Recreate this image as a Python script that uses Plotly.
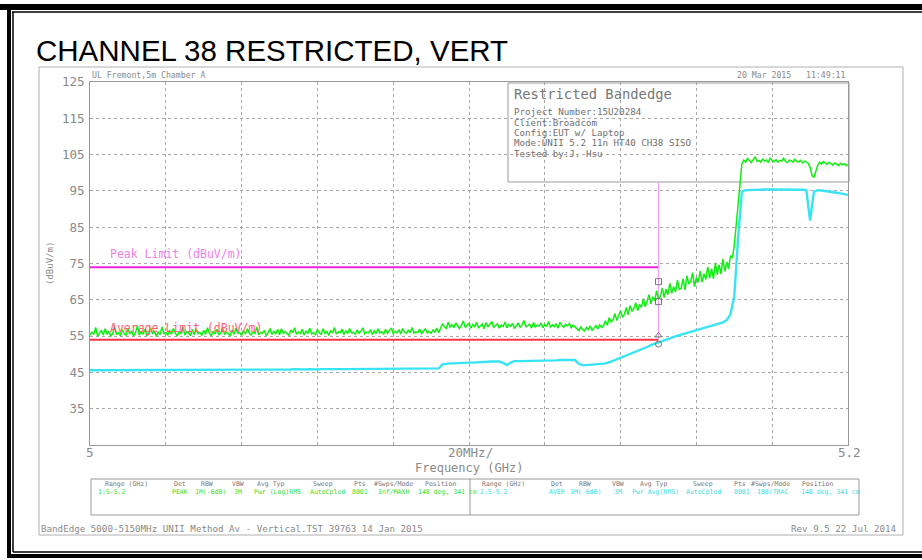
import numpy as np
import plotly.graph_objects as go

# ---------------- data ----------------
peak_start, peak_step = 5.0, 0.0005   # GHz sweep grid for the peak trace
avg_start, avg_step = 5.0, 0.001      # GHz sweep grid for the average trace

peak_trace = [
    # 5.000 - 5.092
    55.2, 56.1, 55.6, 57.4, 55.0, 55.9, 56.6, 55.3, 57.0, 55.5,
    56.3, 54.9, 55.8, 57.7, 55.4, 56.0, 55.1, 56.8, 55.7, 55.2,
    57.2, 55.6, 56.4, 55.0, 55.9, 57.9, 55.3, 56.2, 55.5, 56.9,
    55.1, 55.8, 57.3, 55.6, 56.5, 54.9, 56.1, 55.4, 57.5, 55.7,
    56.0, 55.2, 56.7, 55.5, 57.1, 55.8, 55.0, 56.3, 55.6, 57.6,
    55.3, 56.2, 55.9, 55.1, 56.8, 55.4, 57.0, 55.7, 56.0, 55.2,
    56.6, 55.5, 57.3, 55.8, 55.1, 56.4, 55.6, 56.9, 55.3, 55.9,
    57.4, 55.4, 56.1, 55.7, 55.0, 56.7, 55.5, 57.2, 55.8, 56.0,
    55.2, 56.5, 55.6, 57.0, 55.9, 55.3, 56.2, 55.7, 57.5, 55.4,
    56.0, 55.8, 56.6, 55.1, 55.9, 57.1, 55.5, 56.3, 55.7, 56.8,
    55.4, 57.0, 55.8, 56.2, 55.6, 55.2, 56.7, 55.9, 57.3, 55.5,
    56.1, 55.7, 56.9, 55.3, 56.4, 55.8, 57.2, 55.6, 56.0, 55.4,
    56.8, 55.9, 55.5, 57.0, 55.7, 56.3, 55.2, 56.6, 55.8, 57.4,
    55.6, 56.2, 55.9, 56.9, 55.4, 56.5, 55.7, 57.1, 55.9, 56.0,
    55.5, 56.7, 55.8, 56.3, 57.3, 55.6, 56.1, 55.9, 56.8, 55.4,
    56.4, 55.7, 57.0, 55.9, 56.2, 55.6, 56.9, 55.8, 56.5, 57.2,
    55.7, 56.3, 55.9, 56.8, 55.6, 57.1, 56.0, 55.8, 56.6, 55.9,
    57.4, 55.8, 56.2, 56.0, 56.9, 55.7, 56.4, 57.0, 55.9, 56.3,
    55.8, 56.7, 56.1, 57.2, 55.9,
    # 5.0925 - 5.128
    57.2, 58.4, 57.6, 57.0, 58.9, 57.5, 58.1, 57.3, 58.6, 57.8,
    57.1, 58.0, 59.2, 57.4, 57.9, 58.5, 57.2, 58.2, 57.6, 58.8,
    57.3, 57.9, 58.3, 57.0, 58.7, 57.5, 58.1, 59.0, 57.4, 57.8,
    58.4, 57.2, 58.0, 57.6, 58.9, 57.3, 58.2, 57.7, 58.5, 57.1,
    57.9, 58.6, 57.4, 58.1, 59.3, 57.6, 57.9, 58.3, 57.2, 58.7,
    57.5, 58.0, 57.8, 58.6, 57.3, 58.2, 57.7, 59.0, 57.5, 58.1,
    57.6, 58.4, 57.2, 58.8, 57.9, 57.4, 58.3, 57.8, 58.5, 57.3,
    58.0, 57.6,
    # 5.1285 - 5.1355
    57.0, 56.5, 57.6, 56.7, 56.4, 57.4, 56.8, 57.8, 56.6, 57.2,
    57.9, 57.0, 58.1, 57.4, 57.8,
    # 5.136 - 5.169
    59.2, 58.0, 60.1, 58.9, 59.5, 61.2, 59.3, 60.6, 62.0, 60.2,
    61.0, 62.8, 60.9, 63.4, 61.8, 62.6, 64.2, 62.0, 63.7, 62.9,
    65.3, 63.1, 64.6, 66.4, 63.9, 65.8, 64.7, 67.5, 65.2, 66.0,
    68.3, 65.6, 67.9, 66.4, 69.5, 66.8, 68.6, 67.2, 70.4, 67.9,
    68.2, 70.8, 67.7, 71.6, 69.3, 70.1, 72.5, 68.6, 71.2, 69.8,
    73.0, 69.9, 72.2, 70.6, 74.1, 71.0, 73.6, 70.8, 75.2, 71.9,
    74.6, 72.1, 76.3, 72.8, 75.4, 73.5, 77.2,
    # 5.1695 - 5.172 (band edge rise)
    76.5, 80.0, 86.0, 92.5, 98.5, 102.4,
    # 5.1725 - 5.1895
    103.5, 102.9, 103.9, 103.2, 102.8, 103.6, 104.4, 103.1, 103.4, 102.9,
    103.8, 103.2, 103.5, 102.8, 104.1, 103.3, 103.0, 103.6, 102.9, 103.4,
    103.2, 104.0, 103.1, 102.8, 103.5, 103.3, 102.9, 103.7, 103.1, 103.0,
    103.4, 102.7, 103.2, 102.9, 102.6,
    # 5.190 - 5.192 (dip)
    101.5, 99.3, 98.7, 100.4, 102.0,
    # 5.1925 - 5.200
    102.9, 102.4, 103.1, 102.6, 102.3, 102.9, 102.5, 102.1, 102.7, 102.4,
    102.0, 102.6, 102.2, 102.5, 101.9, 102.3,
]

avg_trace = [
    45.6, 45.6, 45.7, 45.6, 45.6, 45.7, 45.6, 45.6, 45.7, 45.6,
    45.6, 45.7, 45.6, 45.7, 45.6, 45.6, 45.7, 45.6, 45.7, 45.7,
    45.6, 45.7, 45.7, 45.6, 45.7, 45.7, 45.7, 45.6, 45.7, 45.7,
    45.7, 45.7, 45.8, 45.7, 45.7, 45.7, 45.8, 45.7, 45.7, 45.8,
    45.7, 45.8, 45.7, 45.8, 45.8, 45.7, 45.8, 45.8, 45.8, 45.7,
    45.8, 45.8, 45.8, 45.8, 45.9, 45.8, 45.8, 45.8, 45.9, 45.8,
    45.8, 45.9, 45.8, 45.9, 45.9, 45.8, 45.9, 45.9, 45.9, 45.9,
    45.9, 45.9, 46.0, 45.9, 45.9, 46.0, 45.9, 46.0, 46.0, 45.9,
    46.0, 46.0, 46.0, 46.0, 46.1, 46.0, 46.0, 46.1, 46.0, 46.1,
    46.1, 46.1, 46.1,
    47.2,
    47.4, 47.5, 47.5, 47.6, 47.6, 47.7, 47.7, 47.7, 47.8, 47.8,
    47.9, 47.9, 48.0, 48.0,
    48.0, 47.6, 47.0, 47.7, 48.1,
    48.1, 48.1, 48.2, 48.2, 48.2, 48.2, 48.3, 48.3, 48.3, 48.3,
    48.3, 48.4, 48.4, 48.4, 48.4, 48.4,
    47.3, 47.0, 47.0, 47.1, 47.1, 47.2, 47.3, 47.5,
    47.8, 48.2, 48.6, 49.0, 49.4, 49.8, 50.2, 50.7, 51.1, 51.6,
    52.0, 52.5, 52.9, 53.3, 53.7, 54.1, 54.5, 54.8, 55.1, 55.4,
    55.7, 56.0, 56.3, 56.6, 56.9, 57.2, 57.5, 57.8, 58.1, 58.4,
    58.8, 59.4, 61.0, 66.0, 82.0, 94.8, 95.2,
    95.2, 95.3, 95.3, 95.3, 95.4, 95.4, 95.4, 95.5, 95.5, 95.5,
    95.5, 95.5, 95.4, 95.4, 95.3, 95.2,
    86.8, 94.8, 95.2,
    95.1, 95.0, 94.9, 94.7, 94.5, 94.3, 94.1, 93.9,
]

limit_freq = [5.0, 5.15]
peak_limit = [74, 74]
avg_limit = [54, 54]
band_edge_freq = [5.15, 5.15]
band_edge_level = [54, 97.5]
marker_freq = [5.15, 5.15, 5.15, 5.15]
marker_level = [70.0, 64.5, 55.2, 52.8]
marker_symbols = ["square-open", "square-open", "triangle-up-open", "circle-open"]

y_ticks = [35, 45, 55, 65, 75, 85, 95, 105, 115, 125]
x_min, x_max = 5.0, 5.2

table_headers = ["Range (GHz)", "Det", "RBW", "VBW", "Avg Typ", "Sweep", "Pts", "#Swps/Mode", "Position"]
table_row1 = ["1:5-5.2", "PEAK", "1M(-6dB)", "3M", "Pwr (Log)RMS", "AutoCpled", "8001", "Inf/MAXH", "148 deg, 341 cm"]
table_row2 = ["2:5-5.2", "AVER", "1M(-6dB)", "3M", "Pwr Avg(RMS)", "AutoCpled", "8001", "100/TRAC", "148 deg, 341 cm"]

info_lines = ["Project Number:15U20284", "Client:Broadcom", "Config:EUT w/ Laptop",
              "Mode:UNII 5.2 11n HT40 CH38 SISO", "Tested by:J. Hsu"]

# ---------------- figure ----------------
W, H = 922, 560
L, R, T, B = 90, 848, 82, 445


def px(x):
    return (x - L) / (R - L)


def py(y):
    return (B - y) / (B - T)


peak_freq = peak_start + peak_step * np.arange(len(peak_trace))
avg_freq = avg_start + avg_step * np.arange(len(avg_trace))

MONO = "DejaVu Sans Mono"
GRAY = "#8a8a8a"

fig = go.Figure()
fig.add_trace(go.Scatter(x=limit_freq, y=peak_limit, mode="lines",
                         line=dict(color="#ee22dd", width=2), hoverinfo="skip"))
fig.add_trace(go.Scatter(x=limit_freq, y=avg_limit, mode="lines",
                         line=dict(color="#ff3344", width=2), hoverinfo="skip"))
fig.add_trace(go.Scatter(x=band_edge_freq, y=band_edge_level, mode="lines",
                         line=dict(color="#f0a0f0", width=1.2), hoverinfo="skip"))
fig.add_trace(go.Scatter(x=avg_freq, y=avg_trace, mode="lines",
                         line=dict(color="#38e4f4", width=2.4)))
fig.add_trace(go.Scatter(x=peak_freq, y=peak_trace, mode="lines",
                         line=dict(color="#11ee11", width=1.5)))
fig.add_trace(go.Scatter(x=marker_freq, y=marker_level, mode="markers",
                         marker=dict(symbol=marker_symbols, size=6, color="#777777",
                                     line=dict(width=1, color="#777777"))))

shapes = []
# black outer frame
for (x0, y0, x1, y1) in [(0, 4, W, 10), (7, 4, 11, 558), (7, 554, W, 558)]:
    shapes.append(dict(type="rect", xref="paper", yref="paper", x0=px(x0), x1=px(x1),
                       y0=py(y1), y1=py(y0), fillcolor="black", line=dict(width=0)))
for (x0, y0, x1, y1) in [(12, 12, W, 12), (13, 12, 13, 552), (13, 552, W, 552)]:
    shapes.append(dict(type="line", xref="paper", yref="paper", x0=px(x0), x1=px(x1),
                       y0=py(y0), y1=py(y1), line=dict(color="black", width=1.5)))
# gray print-out frame
shapes.append(dict(type="rect", xref="paper", yref="paper", x0=px(39), x1=px(903),
                   y0=py(535), y1=py(67), line=dict(color="#b0b0b0", width=1)))
# info box
shapes.append(dict(type="rect", xref="paper", yref="paper", x0=px(508), x1=px(849),
                   y0=py(182), y1=py(83), fillcolor="white", layer="between",
                   line=dict(color="#9a9a9a", width=1)))
# settings table
shapes.append(dict(type="rect", xref="paper", yref="paper", x0=px(91), x1=px(859),
                   y0=py(515), y1=py(479), line=dict(color="#9a9a9a", width=1)))
shapes.append(dict(type="line", xref="paper", yref="paper", x0=px(470), x1=px(470),
                   y0=py(515), y1=py(479), line=dict(color="#9a9a9a", width=1)))

ann = []


def text(x, y, s, size, color=GRAY, xanchor="left", font=MONO, **kw):
    ann.append(dict(x=px(x), y=py(y), xref="paper", yref="paper", text=s, showarrow=False,
                    xanchor=xanchor, yanchor="middle",
                    font=dict(family=font, size=size, color=color), **kw))


text(34, 50, "CHANNEL 38 RESTRICTED, VERT", 29.5, color="black", font="Liberation Sans")
text(90, 75, "UL Fremont,5m Chamber A", 8.2)
text(848, 75, "20 Mar 2015   11:49:11", 8.2, xanchor="right")
text(512, 94, "Restricted Bandedge", 13.8, color="#777777")
for i, line in enumerate(info_lines):
    text(512, 112 + i * 10.3, line, 9.2, color="#707070")
text(108, 254, "Peak Limit (dBuV/m)", 11.5, color="#f080e8")
text(108, 328, "Average Limit (dBuV/m)", 11.5, color="#ff6070")
text(90, 452, "5", 12.5, xanchor="center")
text(470, 452, "20MHz/", 12.5, xanchor="center")
text(849, 452, "5.2", 12.5, xanchor="center")
text(469, 468, "Frequency (GHz)", 12, xanchor="center")
text(50, 264, "(dBuV/m)", 9, xanchor="center", textangle=-90)

hdr_x1 = [126, 180, 207, 238, 270, 323, 360, 393, 440]
val_x1 = [111, 180, 210, 238, 277, 327, 360, 393, 447]
hdr_x2 = [503, 557, 585, 618, 653, 703, 740, 770, 817]
val_x2 = [493, 557, 585, 618, 655, 703, 742, 772, 830]
for hx, vx, h, v in zip(hdr_x1, val_x1, table_headers, table_row1):
    text(hx, 484, h, 6.5, color="#777777", xanchor="center")
    text(vx, 492, v, 6.5, color="#33dd33", xanchor="center")
for hx, vx, h, v in zip(hdr_x2, val_x2, table_headers, table_row2):
    text(hx, 484, h, 6.5, color="#777777", xanchor="center")
    text(vx, 492, v, 6.5, color="#33dddd", xanchor="center")

text(39, 528, "BandEdge 5000-5150MHz UNII Method Av - Vertical.TST 39763 14 Jan 2015", 9.2)
text(899, 528, "Rev 9.5 22 Jul 2014", 9.2, xanchor="right")

fig.update_layout(
    width=W, height=H, margin=dict(l=L, r=W - R, t=T, b=H - B, pad=0),
    paper_bgcolor="white", plot_bgcolor="white", showlegend=False,
    shapes=shapes, annotations=ann,
    xaxis=dict(range=[x_min, x_max], dtick=0.02, tick0=5.0, showticklabels=False,
               showgrid=True, gridcolor="#a8a8a8", griddash="dot", gridwidth=1,
               showline=True, linecolor="#999999", linewidth=1, mirror=True,
               zeroline=False, ticks=""),
    yaxis=dict(range=[25, 125], tickvals=y_ticks, ticktext=[str(v) for v in y_ticks],
               showgrid=True, gridcolor="#a8a8a8", griddash="dot", gridwidth=1,
               showline=True, linecolor="#999999", linewidth=1, mirror=True,
               zeroline=False, ticks="", ticklabelstandoff=2,
               tickfont=dict(family=MONO, size=12.5, color=GRAY)),
)

fig.write_html("out.html", config={"displayModeBar": False},
               post_script="document.body.style.margin='0';document.body.style.overflow='hidden';")
